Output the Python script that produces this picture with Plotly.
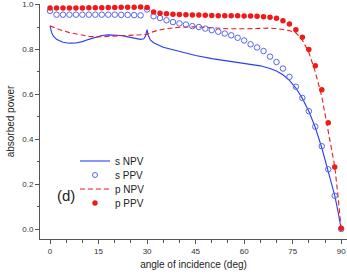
import plotly.graph_objects as go

# ---- data ----
ppv_angle = list(range(0, 91, 2))
s_ppv = [0.972, 0.955, 0.955, 0.955, 0.955, 0.955, 0.955, 0.955, 0.955, 0.955,
         0.955, 0.954, 0.954, 0.953, 0.952, 0.978, 0.948, 0.940, 0.930, 0.922,
         0.916, 0.911, 0.904, 0.900, 0.893, 0.886, 0.879, 0.871, 0.863, 0.852,
         0.840, 0.823, 0.809, 0.793, 0.768, 0.744, 0.715, 0.678, 0.634, 0.584,
         0.525, 0.456, 0.369, 0.266, 0.148, 0.0]
p_ppv = [0.985, 0.985, 0.985, 0.985, 0.985, 0.985, 0.986, 0.986, 0.986, 0.987,
         0.987, 0.988, 0.988, 0.988, 0.989, 0.987, 0.967, 0.961, 0.959, 0.957,
         0.956, 0.955, 0.954, 0.953, 0.952, 0.951, 0.950, 0.950, 0.950, 0.950,
         0.949, 0.949, 0.948, 0.946, 0.944, 0.939, 0.928, 0.913, 0.888, 0.854,
         0.800, 0.727, 0.620, 0.473, 0.276, 0.003]

s_npv_angle = [0, 0.5, 1, 2, 4, 6, 8, 10, 12, 14, 16, 18, 20, 22, 24, 26, 28, 29,
               29.5, 30, 30.3, 31, 32, 35, 40, 45, 50, 55, 60, 65, 68, 70, 72,
               74, 76, 78, 80, 82, 84, 86, 88, 89, 90]
s_npv = [0.905, 0.875, 0.86, 0.845, 0.832, 0.828, 0.829, 0.835, 0.845, 0.855,
         0.862, 0.865, 0.865, 0.862, 0.856, 0.849, 0.845, 0.848, 0.86, 0.888,
         0.865, 0.843, 0.83, 0.81, 0.79, 0.773, 0.759, 0.748, 0.739, 0.727,
         0.715, 0.704, 0.687, 0.662, 0.628, 0.582, 0.525, 0.452, 0.362, 0.262,
         0.15, 0.08, 0.0]

p_npv_angle = [0, 3, 6, 9, 12, 15, 18, 21, 24, 27, 29.5, 30, 31, 33, 36, 40, 45,
               50, 55, 60, 65, 68, 70, 72, 74, 76, 78, 80, 82, 84, 86, 88, 89, 90]
p_npv = [0.905, 0.888, 0.875, 0.866, 0.858, 0.856, 0.858, 0.862, 0.865, 0.867,
         0.868, 0.867, 0.875, 0.884, 0.893, 0.899, 0.901, 0.897, 0.892, 0.892,
         0.895, 0.895, 0.893, 0.89, 0.884, 0.874, 0.842, 0.787, 0.70, 0.59,
         0.44, 0.28, 0.15, 0.0]

x_ticks = [0, 15, 30, 45, 60, 75, 90]
y_ticks = [0.0, 0.2, 0.4, 0.6, 0.8, 1.0]
legend_names = ["s NPV", "s PPV", "p NPV", "p PPV"]

BLUE = "#2b3cf5"
BLUE_C = "#5566ee"
RED = "#f01a1a"

W, H = 347, 277
L, R, T, B = 40, 0, 4, 38
PW, PH = W - L - R, H - T - B

fig = go.Figure()
fig.add_trace(go.Scatter(x=s_npv_angle, y=s_npv, mode="lines",
                         line=dict(color=BLUE, width=1.1), showlegend=False, cliponaxis=False))
fig.add_trace(go.Scatter(x=p_npv_angle, y=p_npv, mode="lines",
                         line=dict(color=RED, width=1.1, dash="5px,3px"), showlegend=False, cliponaxis=False))
fig.add_trace(go.Scatter(x=ppv_angle, y=s_ppv, mode="markers",
                         marker=dict(symbol="circle-open", size=5.5, color=BLUE_C,
                                     line=dict(width=1, color=BLUE_C)), showlegend=False, cliponaxis=False))
fig.add_trace(go.Scatter(x=ppv_angle, y=p_ppv, mode="markers",
                         marker=dict(symbol="circle", size=5.5, color=RED), showlegend=False, cliponaxis=False))

def px(xp):
    return (xp - L) / PW

def py(yp):
    return (H - B - yp) / PH

# manual legend
rows = [161, 175, 189, 203]
shapes = []
shapes.append(dict(type="line", xref="paper", yref="paper", x0=px(80), x1=px(110),
                   y0=py(rows[0]), y1=py(rows[0]), line=dict(color=BLUE, width=1.1)))
shapes.append(dict(type="circle", xref="paper", yref="paper", x0=px(92.5), x1=px(97.5),
                   y0=py(rows[1] + 2.5), y1=py(rows[1] - 2.5), line=dict(color=BLUE_C, width=1)))
shapes.append(dict(type="line", xref="paper", yref="paper", x0=px(80), x1=px(110),
                   y0=py(rows[2]), y1=py(rows[2]), line=dict(color=RED, width=1.1, dash="5px,3px")))
shapes.append(dict(type="circle", xref="paper", yref="paper", x0=px(92.3), x1=px(97.7),
                   y0=py(rows[3] + 2.7), y1=py(rows[3] - 2.7), fillcolor=RED,
                   line=dict(color=RED, width=0)))
FONT = "Liberation Sans, Arial"
annotations = []
for name, r in zip(legend_names, rows):
    annotations.append(dict(text=name, xref="paper", yref="paper", x=px(113), y=py(r),
                            xanchor="left", yanchor="middle", showarrow=False,
                            font=dict(size=10, color="#222", family=FONT)))
annotations.append(dict(text="(d)", xref="paper", yref="paper", x=px(66), y=py(195),
                        xanchor="center", yanchor="middle", showarrow=False,
                        font=dict(size=15, color="#222", family=FONT)))

axis_common = dict(showgrid=False, zeroline=False, showline=True, linecolor="#555",
                   linewidth=1, ticks="outside", ticklen=4, tickwidth=1, tickcolor="#555",
                   tickfont=dict(size=8, color="#333", family=FONT),
                   mirror=False, automargin=False, ticklabeloverflow="allow")

fig.update_layout(
    width=W, height=H, margin=dict(l=L, r=R, t=T, b=B, autoexpand=False),
    plot_bgcolor="white", paper_bgcolor="white",
    shapes=shapes, annotations=annotations,
    xaxis=dict(range=[-3.1, 91.8], tickvals=x_ticks, ticktext=[str(v) for v in x_ticks],
               minor=dict(dtick=5, tick0=0, ticks="outside", ticklen=2.5, tickcolor="#555"),
               title=dict(text="angle of incidence (deg)", standoff=6,
                          font=dict(size=10, color="#222", family=FONT)),
               **axis_common),
    yaxis=dict(range=[-0.0445, 1.0025], tickvals=y_ticks,
               ticktext=["%.1f" % v for v in y_ticks],
               minor=dict(dtick=0.1, tick0=0, ticks="outside", ticklen=2.5, tickcolor="#555"),
               title=dict(text="absorbed power", standoff=5,
                          font=dict(size=10, color="#222", family=FONT)),
               **axis_common),
)

fig.write_html("out.html", config={"displayModeBar": False, "staticPlot": True},
               post_script="document.body.style.margin='0';document.body.style.overflow='hidden';")
